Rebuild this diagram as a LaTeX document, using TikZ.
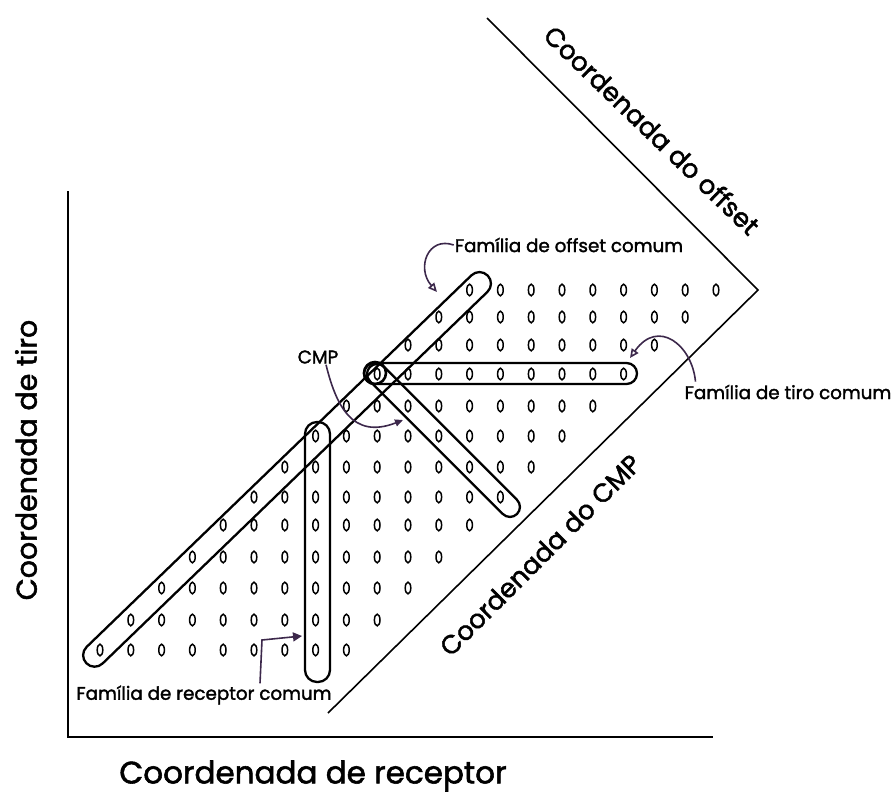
\documentclass[tikz,border=0pt]{standalone}
\usepackage{fontspec}
\setmainfont{Poppins}
\newfontfamily\labfont{Poppins}[FakeBold=1.8,Ligatures=NoCommon]
\usetikzlibrary{arrows.meta}
\definecolor{penc}{RGB}{60,40,75}
\begin{document}
\begin{tikzpicture}[x=1pt,y=-1pt,
  capsule/.style={draw=black,line width=2.3pt},
  dotm/.style={draw=black,line width=1.5pt},
  axisl/.style={line width=2.6pt,line cap=rect},
  coordl/.style={line width=1.6pt},
  bigtxt/.style={font=\labfont\fontsize{26}{30}\selectfont,inner sep=0pt},
  smalltxt/.style={font=\labfont\fontsize{18.3}{21}\selectfont,inner sep=1pt},
  pen/.style={draw=penc,line width=1.6pt}]
\useasboundingbox (0,0) rectangle (896,798);
% axes
\draw[axisl] (68,192) -- (68,737) -- (712,737);
% offset and CMP coordinate lines
\draw[coordl] (487,18) -- (758,290) -- (328,713);
% traces
\foreach \r/\yy in {0/650,1/620,2/588,3/557,4/525,5/497,6/467,7/436,8/406,9/374,10/345,11/317,12/290}{
  \foreach \k in {0,...,8}{
    \pgfmathsetmacro\xx{100+30.8*(\r+\k)}
    \draw[dotm] (\xx,\yy) ellipse [x radius=2.8, y radius=5.8];
  }
}
% common offset family
\begin{scope}[shift={(100,650)},rotate=44]
  \draw[capsule,rounded corners=11.5pt] (-19,-11.5) rectangle (539,11.5);
\end{scope}
% common shot family
\draw[capsule,rounded corners=10.5pt] (364,363) rectangle (637,384);
% common receiver family
\draw[capsule,rounded corners=12pt] (305,422) rectangle (330,682);
% CMP family
\begin{scope}[shift={(377,374)},rotate=-45]
  \draw[capsule,rounded corners=10pt] (-10,-10) rectangle (198,10);
\end{scope}
% CMP ring
\draw[line width=2.6pt] (375,373) circle [radius=11];
% labels
\node[bigtxt,font=\labfont\fontsize{28.5}{32}\selectfont,rotate=90] (axtiro) at (26,460) {Coordenada de tiro};
\node[bigtxt,font=\labfont\fontsize{31}{35}\selectfont] (axrec) at (313,776) {Coordenada de receptor};
\node[bigtxt,rotate=-44] (axoff) at (652,130) {Coordenada do offset};
\node[bigtxt,rotate=45] (axcmp) at (540,555) {Coordenada do CMP};
\node[smalltxt] (lbloff) at (569,245) {Família de offset comum};
\node[smalltxt] (lbltiro) at (788,392) {Família de tiro comum};
\node[smalltxt] (lblrec) at (204,695) {Família de receptor comum};
\node[smalltxt] (lblcmp) at (318,357) {CMP};
% arrow tips
\coordinate (tipoff) at (437,292);
\coordinate (tiptiro) at (630,358);
\coordinate (tipcmp) at (403,420);
\coordinate (tiprec) at (302,636);
\coordinate (bendrec) at (262,640);
% pointers
\draw[pen,-{Triangle[open,length=9pt,width=8pt]}] (lbloff.west) .. controls (428,236) and (416,268) .. (tipoff);
\draw[pen,-{Triangle[open,length=9pt,width=8pt]}] ([xshift=12pt,yshift=2pt]lbltiro.north west) .. controls (692,345) and (658,318) .. (tiptiro);
\draw[pen,-{Triangle[length=8pt,width=7pt]}] ([xshift=8pt]lblcmp.south) .. controls (336,405) and (352,440) .. (tipcmp);
\draw[pen,-{Triangle[length=9pt,width=9pt]}] ([xshift=56pt,yshift=1pt]lblrec.north) -- (bendrec) -- (tiprec);
\end{tikzpicture}
\end{document}
